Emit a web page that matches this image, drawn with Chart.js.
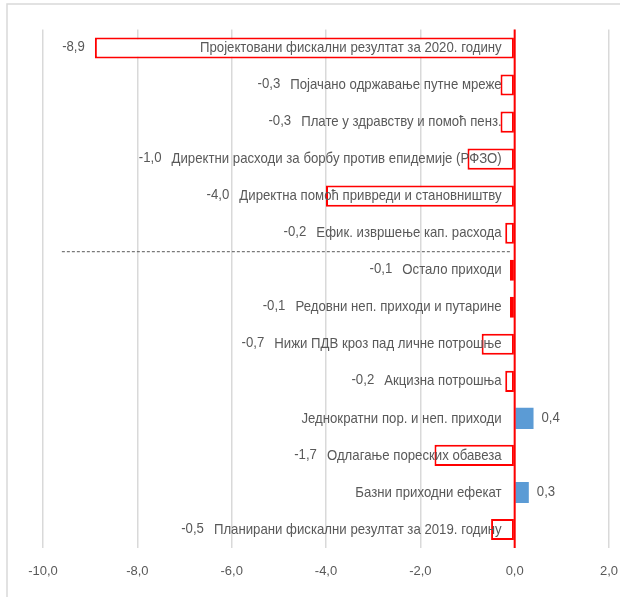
<!DOCTYPE html>
<html lang="sr">
<head>
<meta charset="UTF-8">
<title>Фискални резултат</title>
<script src="https://cdn.jsdelivr.net/npm/chart.js"></script>
<style>
body { margin: 0; background: #fff; }
#chart { display: block; }
</style>
</head>
<body>
<canvas id="chart" width="620" height="597"></canvas>
<script>
// categories top to bottom
const categories = [
    'Пројектовани фискални резултат за 2020. годину',
    'Појачано одржавање путне мреже',
    'Плате у здравству и помоћ пенз.',
    'Директни расходи за борбу против епидемије (РФЗО)',
    'Директна помоћ привреди и становништву',
    'Ефик. извршење кап. расхода',
    'Остало приходи',
    'Редовни неп. приходи и путарине',
    'Нижи ПДВ кроз пад личне потрошње',
    'Акцизна потрошња',
    'Једнократни пор. и неп. приходи',
    'Одлагање пореских обавеза',
    'Базни приходни ефекат',
    'Планирани фискални резултат за 2019. годину'
];
const values = [-8.9, -0.3, -0.3, -1.0, -4.0, -0.2, -0.1, -0.1, -0.7, -0.2, 0.4, -1.7, 0.3, -0.5];
const xMin = -10, xMax = 2, xStep = 2;
const separatorAfter = 5;          // dashed line between expenditure and revenue items
const separatorRange = [-9.6, -0.1];

const FONT = '"Liberation Sans", Arial, sans-serif';
const TEXT = '#595959';
const NARROW = 0.88;   // squeeze text to look like the narrow original font

function fmt(v) {
    return v.toFixed(1).replace('.', ',');
}

function narrowText(c, text, x, y, align) {
    const w = c.measureText(text).width * NARROW;
    const left = align === 'right' ? x - w : x;
    c.save();
    c.translate(left, y);
    c.scale(NARROW, 1);
    c.textAlign = 'left';
    c.fillText(text, 0, 0);
    c.restore();
    return left;
}

const labelPlugin = {
    id: 'labels',
    beforeDraw(chart) {
        const c = chart.ctx;
        c.save();
        c.strokeStyle = '#d9d9d9';
        c.lineWidth = 1.5;
        c.strokeRect(7, 4, 640, 640);
        c.restore();
    },
    afterDatasetsDraw(chart) {
        const c = chart.ctx;
        const xs = chart.scales.x;
        const area = chart.chartArea;
        const zero = xs.getPixelForValue(0);
        const bars = chart.getDatasetMeta(0).data;

        c.save();
        // zero line
        c.strokeStyle = '#FF0000';
        c.lineWidth = 2;
        c.beginPath();
        c.moveTo(zero, area.top);
        c.lineTo(zero, area.bottom);
        c.stroke();

        // separator
        const ySep = (bars[separatorAfter].y + bars[separatorAfter + 1].y) / 2;
        c.strokeStyle = '#595959';
        c.lineWidth = 1;
        c.setLineDash([3, 2]);
        c.beginPath();
        c.moveTo(xs.getPixelForValue(separatorRange[0]), ySep);
        c.lineTo(xs.getPixelForValue(separatorRange[1]), ySep);
        c.stroke();
        c.setLineDash([]);

        c.font = '15px ' + FONT;
        c.fillStyle = TEXT;
        c.textBaseline = 'middle';
        bars.forEach((bar, i) => {
            const v = values[i];
            const catLeft = narrowText(c, categories[i], zero - 13, bar.y, 'right');
            if (v < 0) {
                narrowText(c, fmt(v), Math.min(bar.x, catLeft) - 10, bar.y - 1, 'right');
            } else {
                narrowText(c, fmt(v), bar.x + 8, bar.y - 1, 'left');
            }
        });
        c.restore();
    }
};

new Chart(document.getElementById('chart'), {
    type: 'bar',
    data: {
        labels: categories,
        datasets: [{
            data: values,
            backgroundColor: ctx => ctx.raw < 0 ? '#FFFFFF' : '#5B9BD5',
            borderColor: '#FF0000',
            borderWidth: ctx => ctx.raw < 0 ? 2 : 0,
            borderSkipped: false,
            barPercentage: 0.57,
            categoryPercentage: 1
        }]
    },
    options: {
        indexAxis: 'y',
        responsive: false,
        animation: false,
        layout: {
            padding: { left: 43, right: 11, top: 29.5, bottom: 17.4 }
        },
        plugins: {
            legend: { display: false },
            tooltip: { enabled: false }
        },
        scales: {
            x: {
                min: xMin,
                max: xMax,
                border: { display: false },
                grid: {
                    color: '#d9d9d9',
                    lineWidth: 1.5,
                    drawTicks: true,
                    tickLength: 16,
                    tickColor: 'transparent'
                },
                ticks: {
                    stepSize: xStep,
                    padding: 0,
                    color: TEXT,
                    font: { family: FONT, size: 13 },
                    callback: v => fmt(v)
                }
            },
            y: {
                display: false
            }
        }
    },
    plugins: [labelPlugin]
});
</script>
</body>
</html>
